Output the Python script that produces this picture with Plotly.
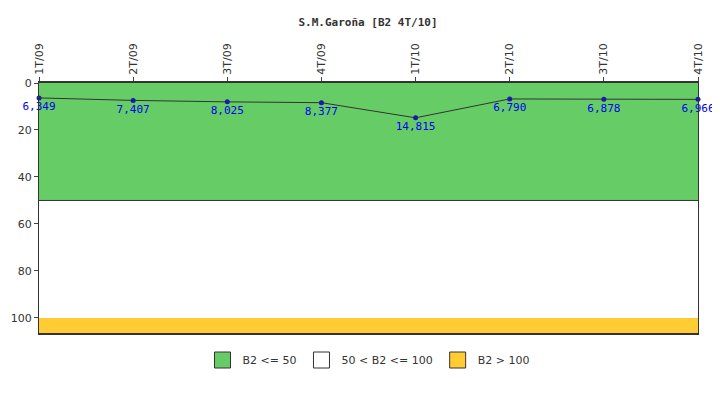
import plotly.graph_objects as go

periods = ["1T/09", "2T/09", "3T/09", "4T/09", "1T/10", "2T/10", "3T/10", "4T/10"]
values = [6.349, 7.407, 8.025, 8.377, 14.815, 6.790, 6.878, 6.966]
labels = ["6,349", "7,407", "8,025", "8,377", "14,815", "6,790", "6,878", "6,966"]
band_names = ["B2 <= 50", "50 < B2 <= 100", "B2 > 100"]
band_limits = [(0, 50), (50, 100), (100, 106.4)]
band_colors = ["#66cc66", "#ffffff", "#ffcc33"]

xs = list(range(len(periods)))
fig = go.Figure()

shapes = []
for (lo, hi), c in zip(band_limits, band_colors):
    shapes.append(dict(type="rect", xref="x", yref="y", x0=0, x1=7, y0=lo, y1=hi,
                       fillcolor=c, line=dict(width=0), layer="below"))
shapes.append(dict(type="line", xref="x", yref="y", x0=0, x1=7, y0=50, y1=50, line=dict(color="#333", width=1)))

for name, c in zip(band_names, band_colors):
    fig.add_trace(go.Scatter(x=[None], y=[None], mode="markers", name=name,
                             marker=dict(symbol="square", size=18, color=c, line=dict(color="#333", width=1))))

fig.add_trace(go.Scatter(x=xs, y=values, mode="lines+markers+text", text=labels,
                         textposition="bottom center", showlegend=False, cliponaxis=False,
                         textfont=dict(color="#0000ee", size=11, family="DejaVu Sans Mono"),
                         line=dict(color="#333333", width=1), marker=dict(color="#1a1aaa", size=5)))

fig.update_layout(
    width=720, height=400, plot_bgcolor="white", paper_bgcolor="white",
    margin=dict(l=31, r=30, t=75, b=75),
    title=dict(text="<b>S.M.Garoña [B2 4T/10]</b>", x=0.5, y=0.975, font=dict(size=11, family="DejaVu Sans Mono", color="#333")),
    shapes=shapes,
    font=dict(family="DejaVu Sans", size=11, color="#333"),
    legend=dict(orientation="h", x=0.5, xanchor="center", y=-0.05, yanchor="top", font=dict(size=11)),
)
fig.update_xaxes(range=[0, 7], side="top", tickvals=xs, ticktext=periods, tickangle=-90, automargin=False,
                 showgrid=False, zeroline=False, ticks="outside", ticklen=4,
                 showline=True, linecolor="#333", linewidth=2, mirror=True)
fig.update_yaxes(range=[106.4, 0], tickvals=[0, 20, 40, 60, 80, 100], showgrid=False, zeroline=False, automargin=False,
                 ticks="outside", ticklen=4, showline=True, linecolor="#333", linewidth=1, mirror=True)

fig.write_html("out.html")
